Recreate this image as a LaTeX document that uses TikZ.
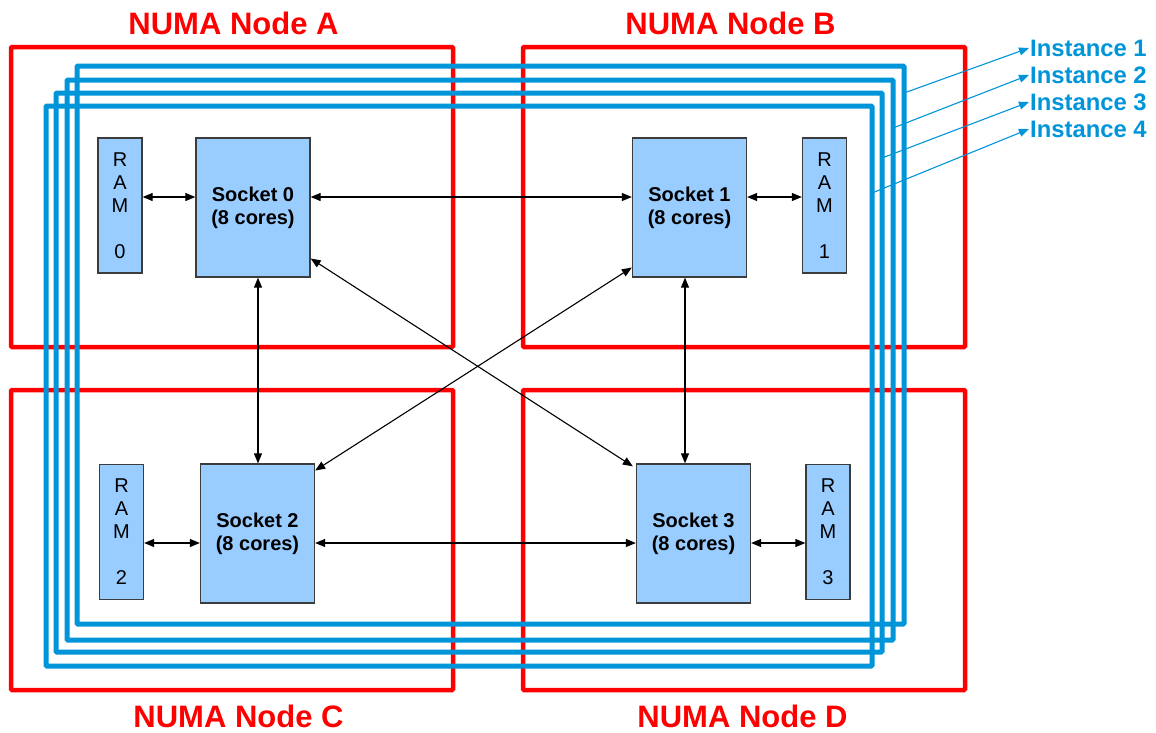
\documentclass[tikz,border=0pt]{standalone}
\usepackage{fontspec}
\setmainfont{Liberation Sans}
\usepackage{xcolor}
\usetikzlibrary{arrows.meta}
\definecolor{numared}{RGB}{255,0,0}
\definecolor{instblue}{RGB}{0,148,217}
\definecolor{sockfill}{RGB}{153,204,255}
\definecolor{sockline}{RGB}{60,60,60}

\begin{document}
\begin{tikzpicture}[x=1pt,y=-1pt,
    numabox/.style={draw=numared,line width=4.5pt,rounded corners=1pt,minimum width=442pt,minimum height=300pt},
    numatitle/.style={text=numared,font=\fontsize{31}{34}\selectfont\bfseries},
    instbox/.style={draw=instblue,line width=5pt,rounded corners=1pt},
    instlabel/.style={text=instblue,anchor=west,inner sep=1pt,font=\fontsize{23.8}{26}\selectfont\bfseries},
    instarrow/.style={draw=instblue,line width=1.1pt,-{Triangle[length=10pt,width=8pt]}},
    socketbox/.style={draw=sockline,fill=sockfill,line width=1.3pt,align=center,minimum width=114pt,minimum height=139pt,font=\fontsize{20}{23}\selectfont\bfseries},
    rambox/.style={draw=sockline,fill=sockfill,line width=1.3pt,align=center,minimum width=44pt,minimum height=135pt,font=\fontsize{20}{23}\selectfont},
    link/.style={line width=1.1pt,{Triangle[length=10pt,width=8pt]}-{Triangle[length=10pt,width=8pt]}}]
  \useasboundingbox (0,0) rectangle (1156,732);

  \node[numabox] (na) at (232,197) {};
  \node[numabox] (nb) at (744,197) {};
  \node[numabox] (nc) at (232,540) {};
  \node[numabox] (nd) at (744,540) {};
  \node[numatitle] (ta) at (233.5,23) {NUMA Node A};
  \node[numatitle] (tb) at (730.5,23) {NUMA Node B};
  \node[numatitle] (tc) at (238.5,716) {NUMA Node C};
  \node[numatitle] (td) at (742.5,716) {NUMA Node D};

  \foreach \k/\l/\t/\r/\b/\ya/\ly in {4/46/106/872/666/193/129,3/56/93/882/652/158/102,2/67/80/893/640/128/75,1/77/66/904/624/93/48}{
    \draw[instbox] (\l,\t) rectangle (\r,\b);
    \coordinate (i\k) at (\r,\ya);
    \node[instlabel] (lab\k) at (1029,\ly) {Instance \k};
    \draw[instarrow] (i\k) -- (lab\k.west);
  }

  \node[socketbox] (s0) at (253,207.5) {Socket 0\\(8 cores)};
  \node[socketbox] (s1) at (689.5,207.5) {Socket 1\\(8 cores)};
  \node[socketbox] (s2) at (257.5,533.5) {Socket 2\\(8 cores)};
  \node[socketbox] (s3) at (693.5,533.5) {Socket 3\\(8 cores)};
  \node[rambox] (r0) at (120,205.5) {R\\A\\M\\[23pt]0};
  \node[rambox] (r1) at (824.5,205.5) {R\\A\\M\\[23pt]1};
  \node[rambox] (r2) at (121.5,532) {R\\A\\M\\[23pt]2};
  \node[rambox] (r3) at (828,532) {R\\A\\M\\[23pt]3};

  \draw[link] ([yshift=8.5pt]r0.east) -- ([yshift=10.5pt]s0.west);
  \draw[link] ([yshift=10.5pt]s0.east) -- ([yshift=10.5pt]s1.west);
  \draw[link] ([yshift=10.5pt]s1.east) -- ([yshift=8.5pt]r1.west);
  \draw[link] ([yshift=-11pt]r2.east) -- ([yshift=-9.5pt]s2.west);
  \draw[link] ([yshift=-9.5pt]s2.east) -- ([yshift=-9.5pt]s3.west);
  \draw[link] ([yshift=-9.5pt]s3.east) -- ([yshift=-11pt]r3.west);
  \draw[link] ([xshift=5pt]s0.south) -- ([xshift=0.5pt]s2.north);
  \draw[link] ([xshift=-4.5pt]s1.south) -- ([xshift=-8.5pt]s3.north);
  \draw[link] ([yshift=-51pt]s0.east) -- ([xshift=-3pt,yshift=-3pt]s3.north west);
  \draw[link] ([yshift=-60pt]s1.west) -- ([yshift=63pt]s2.east);
\end{tikzpicture}
\end{document}
